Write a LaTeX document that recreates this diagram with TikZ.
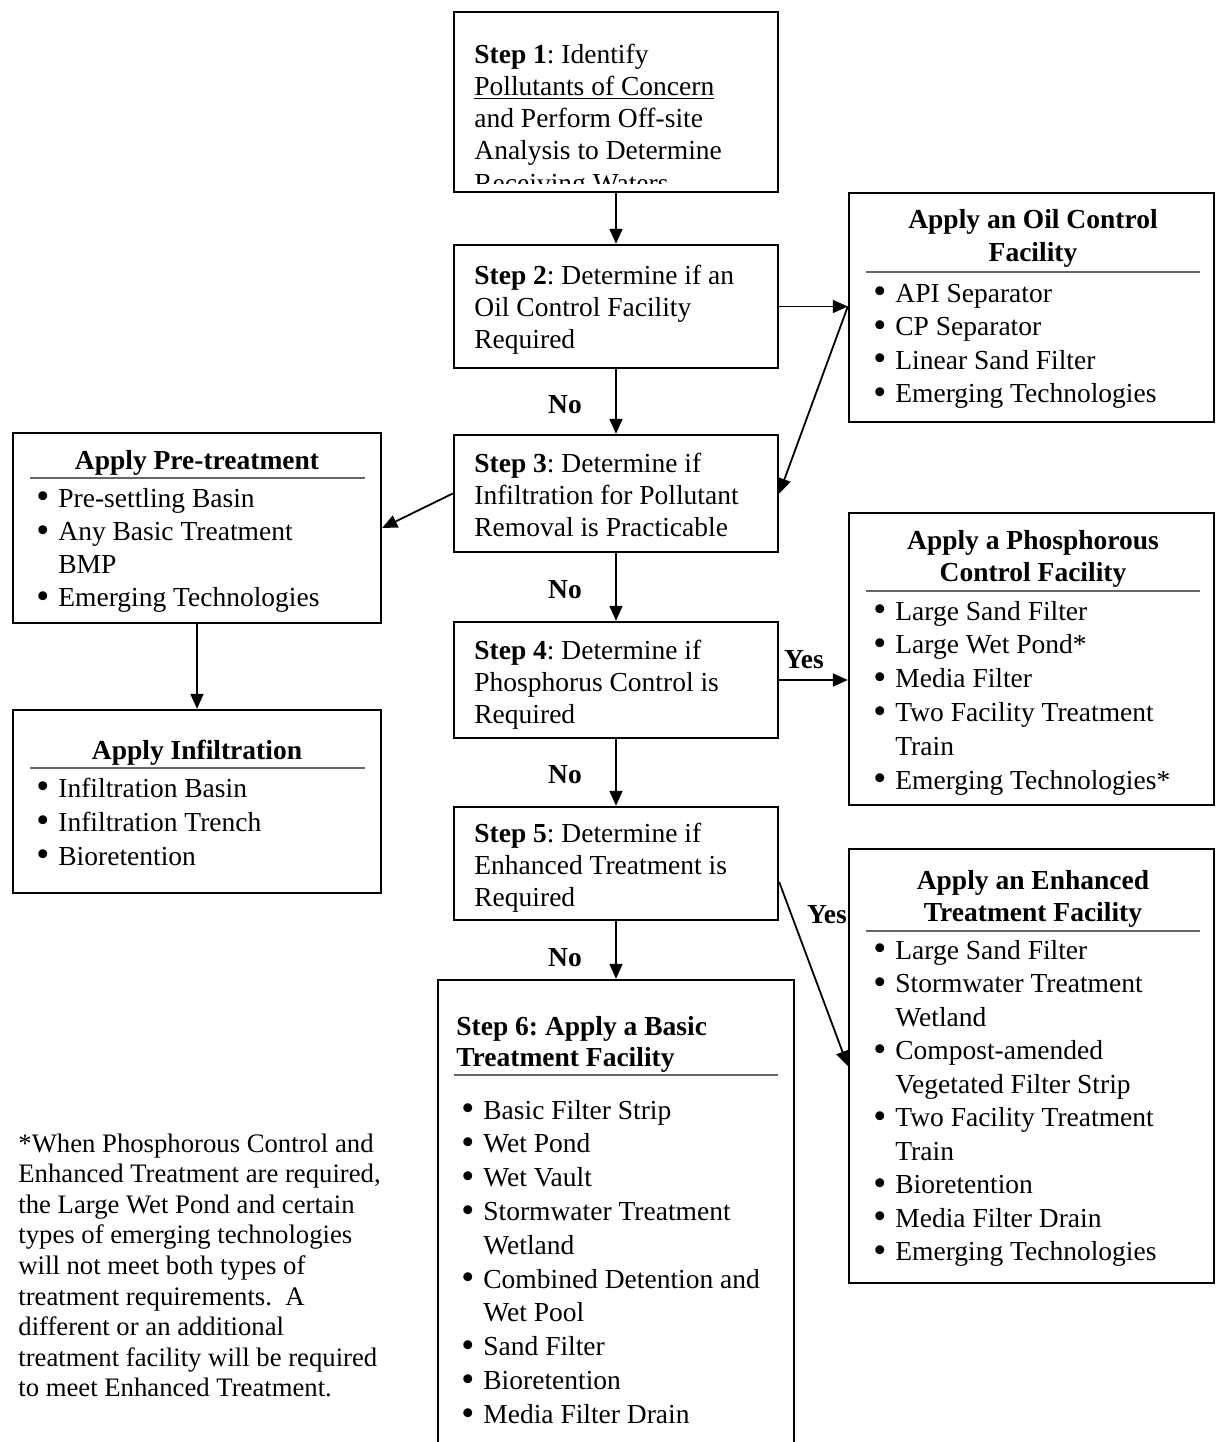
\documentclass[tikz,border=0pt]{standalone}
\usepackage{fontspec}
\setmainfont{Liberation Serif}
\usetikzlibrary{fit,arrows.meta}
\newlength\bind
\setlength\bind{11pt}
\newcommand\bitem[1]{\par\noindent\hangindent=\bind\hangafter=1\makebox[\bind][l]{\raisebox{-0.07em}{\scalebox{1.35}{\textbullet}}}#1}
\newcommand\blk[3]{\parbox[t]{#1}{\raggedright\frenchspacing\fontsize{13.75pt}{#2}\selectfont #3}}
\newcommand\ctitle[2]{\parbox[t]{180pt}{\centering\fontsize{13.75pt}{#1}\selectfont\bfseries #2}}
\tikzset{
  box/.style={draw, line width=1.2pt, inner sep=0pt},
  arr/.style={line width=0.9pt, -{Triangle[length=7.5pt,width=6.5pt]}},
  rl/.style={draw=black!60, line width=0.6pt},
  lbl/.style={font=\fontsize{13.75pt}{16pt}\selectfont\bfseries, anchor=base, inner sep=0pt},
  txt/.style={anchor=base west, inner sep=0pt},
  ttl/.style={anchor=base, inner sep=0pt},
}
\begin{document}
\begin{tikzpicture}[x=0.5pt,y=-0.5pt]
\useasboundingbox (0,0) rectangle (1217,1442);
\clip (0,0) rectangle (1217,1442);
% boxes
\node[box, fit={(454,12) (778,192)}] (s1) {};
\node[box, fit={(454,245) (778,368)}] (s2) {};
\node[box, fit={(454,435) (778,552)}] (s3) {};
\node[box, fit={(454,622) (778,738)}] (s4) {};
\node[box, fit={(454,807) (778,920)}] (s5) {};
\node[box, fit={(438,980) (794,1470)}] (s6) {};
\node[box, fit={(849,193) (1214,422)}] (oil) {};
\node[box, fit={(13,433) (381,623)}] (pre) {};
\node[box, fit={(13,710) (381,893)}] (inf) {};
\node[box, fit={(849,513) (1214,805)}] (ph) {};
\node[box, fit={(849,849) (1214,1283)}] (en) {};
% step texts
\begin{scope}
\clip (454,12) rectangle (778,183);
\node[txt] (t1) at (474,63) {\blk{300pt}{16.15pt}{\textbf{Step 1}: Identify\\ \underline{Pollutants of Concern}\\ and Perform Off-site\\ Analysis to Determine\\ Receiving Waters}};
\end{scope}
\node[txt] (t2) at (474,284) {\blk{300pt}{16.15pt}{\textbf{Step 2}: Determine if an\\ Oil Control Facility\\ Required}};
\node[txt] (t3) at (474,472) {\blk{300pt}{16.15pt}{\textbf{Step 3}: Determine if\\ Infiltration for Pollutant\\ Removal is Practicable}};
\node[txt] (t4) at (474,659) {\blk{300pt}{16.15pt}{\textbf{Step 4}: Determine if\\ Phosphorus Control is\\ Required}};
\node[txt] (t5) at (474,842) {\blk{300pt}{16.15pt}{\textbf{Step 5}: Determine if\\ Enhanced Treatment is\\ Required}};
\node[txt] (t6) at (456,1035) {\blk{300pt}{15.5pt}{\bfseries Step 6: Apply a Basic\\ Treatment Facility}};
\draw[rl] (454,1075) -- (778,1075);
\node[txt] (l6) at (461,1119) {\blk{300pt}{16.9pt}{%
\bitem{Basic Filter Strip}
\bitem{Wet Pond}
\bitem{Wet Vault}
\bitem{Stormwater Treatment\newline Wetland}
\bitem{Combined Detention and\newline Wet Pool}
\bitem{Sand Filter}
\bitem{Bioretention}
\bitem{Media Filter Drain}}};
% oil
\node[ttl] (oilt) at (1033,228) {\ctitle{16.5pt}{Apply an Oil Control\\ Facility}};
\draw[rl] (866,272) -- (1200,272);
\node[txt] (oill) at (873,302) {\blk{300pt}{16.75pt}{%
\bitem{API Separator}
\bitem{CP Separator}
\bitem{Linear Sand Filter}
\bitem{Emerging Technologies}}};
% pre-treatment
\node[ttl] (pret) at (197,469) {\ctitle{16.5pt}{Apply Pre-treatment}};
\draw[rl] (30,478) -- (365,478);
\node[txt] (prel) at (36,507) {\blk{300pt}{16.65pt}{%
\bitem{Pre-settling Basin}
\bitem{Any Basic Treatment\newline BMP}
\bitem{Emerging Technologies}}};
% infiltration
\node[ttl] (inft) at (197,759) {\ctitle{16.5pt}{Apply Infiltration}};
\draw[rl] (30,768) -- (365,768);
\node[txt] (infl) at (36,797) {\blk{300pt}{17pt}{%
\bitem{Infiltration Basin}
\bitem{Infiltration Trench}
\bitem{Bioretention}}};
% phosphorous
\node[ttl] (pht) at (1033,549) {\ctitle{16.2pt}{Apply a Phosphorous\\ Control Facility}};
\draw[rl] (866,591) -- (1200,591);
\node[txt] (phl) at (873,620) {\blk{300pt}{16.9pt}{%
\bitem{Large Sand Filter}
\bitem{Large Wet Pond*}
\bitem{Media Filter}
\bitem{Two Facility Treatment\newline Train}
\bitem{Emerging Technologies*}}};
% enhanced
\node[ttl] (ent) at (1033,889) {\ctitle{16.2pt}{Apply an Enhanced\\ Treatment Facility}};
\draw[rl] (866,931) -- (1200,931);
\node[txt] (enl) at (873,959) {\blk{300pt}{16.75pt}{%
\bitem{Large Sand Filter}
\bitem{Stormwater Treatment\newline Wetland}
\bitem{Compost-amended\newline Vegetated Filter Strip}
\bitem{Two Facility Treatment\newline Train}
\bitem{Bioretention}
\bitem{Media Filter Drain}
\bitem{Emerging Technologies}}};
% footnote
\node[txt] (fn) at (18,1152) {\parbox[t]{300pt}{\raggedright\fontsize{13.35pt}{15.3pt}\selectfont *When Phosphorous Control and\\ Enhanced Treatment are required,\\ the Large Wet Pond and certain\\ types of emerging technologies\\ will not meet both types of\\ treatment requirements.\ \ A\\ different or an additional\\ treatment facility will be required\\ to meet Enhanced Treatment.}};
% connectors
\draw[arr] (s1.south) -- (s2.north);
\draw[arr] (s2.south) -- (s3.north);
\draw[arr] (s3.south) -- (s4.north);
\draw[arr] (s4.south) -- (s5.north);
\draw[arr] (s5.south) -- (s5.south |- s6.north);
\coordinate (oilin) at (s2.east -| oil.west);
\draw[arr] (s2.east) -- (oilin);
\draw[arr] (oilin) -- (s3.east);
\draw[arr] (s3.west) -- (pre.east);
\draw[arr] (pre.south) -- (inf.north);
\draw[arr] (s4.east) -- (s4.east -| ph.west);
\draw[arr] ([yshift=-9.25pt]s5.east) -- (en.west);
% labels
\node[lbl] (no1) at (565,413) {No};
\node[lbl] (no2) at (565,598) {No};
\node[lbl] (no3) at (565,783) {No};
\node[lbl] (no4) at (565,966) {No};
\node[lbl] (yes1) at (804,668) {Yes};
\node[lbl] (yes2) at (827,923) {Yes};
\end{tikzpicture}
\end{document}
